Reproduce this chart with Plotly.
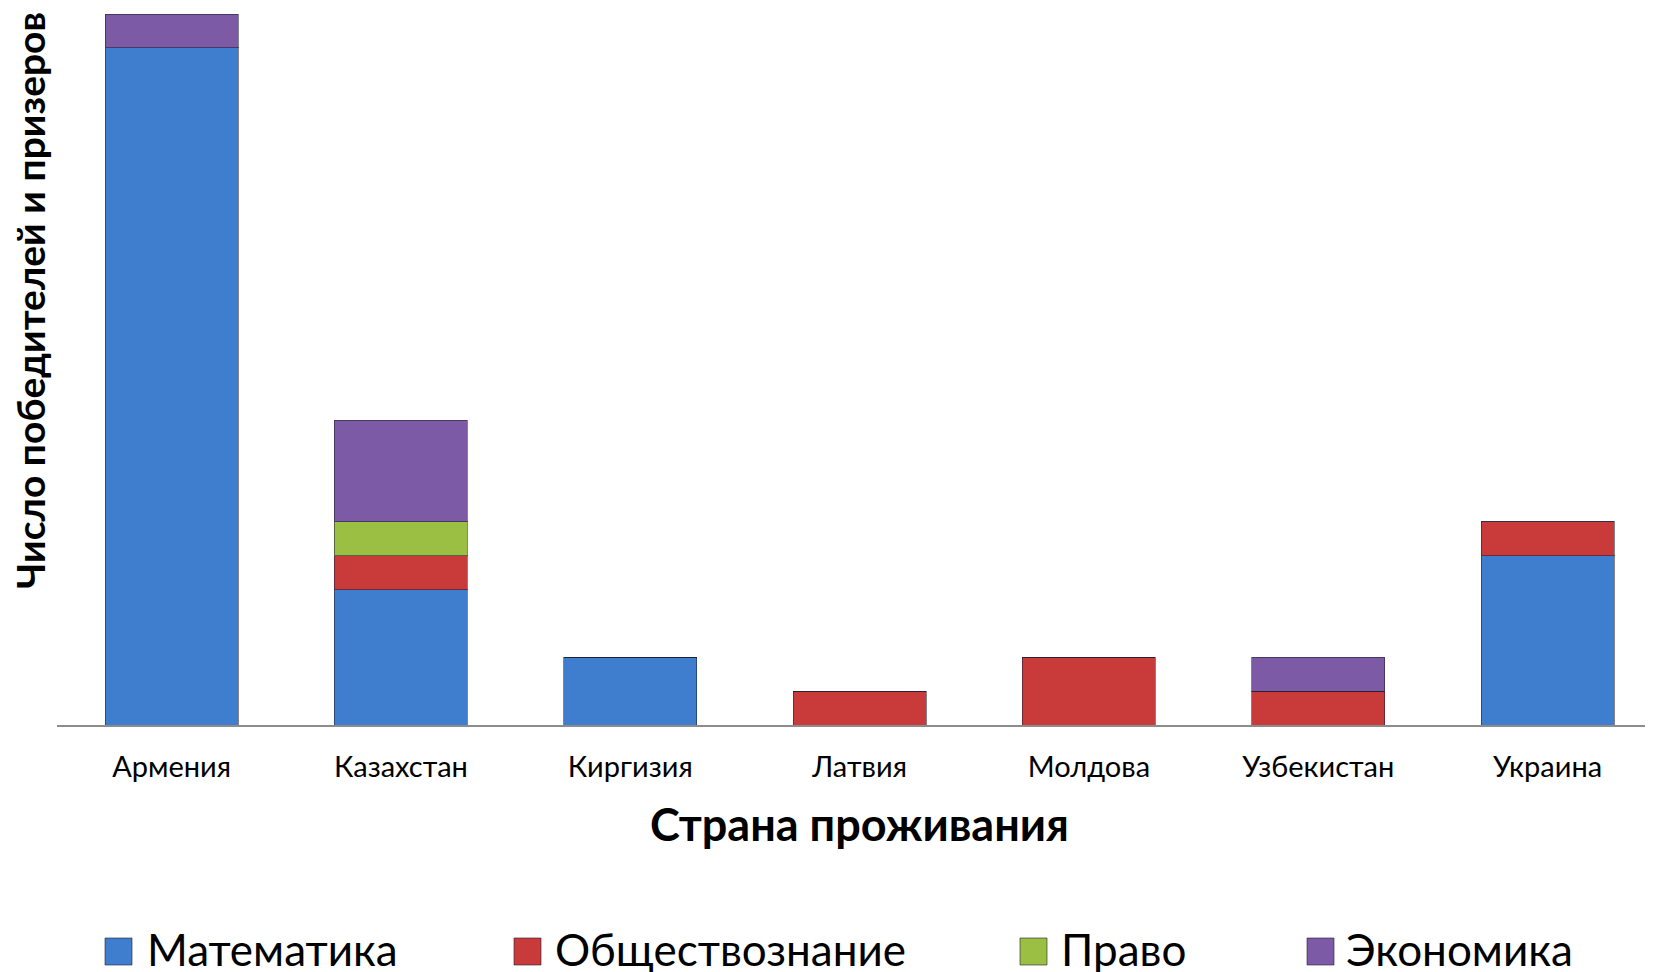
import plotly.graph_objects as go

countries = ["Армения", "Казахстан", "Киргизия", "Латвия", "Молдова", "Узбекистан", "Украина"]
subjects = ["Математика", "Обществознание", "Право", "Экономика"]
math = [20, 4, 2, 0, 0, 0, 5]
social = [0, 1, 0, 1, 2, 1, 1]
law = [0, 1, 0, 0, 0, 0, 0]
econ = [1, 3, 0, 0, 0, 1, 0]
colors = ["#3F7ECF", "#C93A3A", "#9BBF42", "#7D5AA6"]

# page has an 8px body margin, so work in page pixels and shift
OFF = 8
W, H = 1653, 972
L, R, T = 57 - OFF, OFF, 0
BASE = 725 - OFF  # x-axis line in figure pixels
B = H - BASE
FONT = "Lato, 'Open Sans', sans-serif"


def px(x):
    return (x - OFF - L) / (W - L - R)


def py(y):
    return (BASE - (y - OFF)) / (BASE - T)


fig = go.Figure()
for name, vals, col in zip(subjects, [math, social, law, econ], colors):
    fig.add_trace(
        go.Bar(
            x=countries,
            y=vals,
            name=name,
            width=0.58,
            marker=dict(color=col, line=dict(color="rgba(30,30,50,0.55)", width=1)),
            showlegend=False,
        )
    )

# legend drawn by hand so the swatches can be as large as in the original
legend_pos = [(105, 145), (514, 553), (1020, 1059), (1307, 1344)]
for name, col, (sx, tx) in zip(subjects, colors, legend_pos):
    fig.add_shape(
        type="rect", xref="paper", yref="paper",
        x0=px(sx), x1=px(sx + 27), y0=py(938), y1=py(965),
        fillcolor=col, line=dict(color="rgba(30,30,50,0.6)", width=1),
    )
    fig.add_annotation(
        x=px(tx), y=py(949), xref="paper", yref="paper", text=name,
        showarrow=False, xanchor="left", yanchor="middle",
        font=dict(family=FONT, size=44, color="black"),
    )

fig.add_annotation(
    x=px(859), y=py(824), xref="paper", yref="paper", text="<b>Страна проживания</b>",
    showarrow=False, xanchor="center", yanchor="middle",
    font=dict(family=FONT, size=45, color="black"),
)
fig.add_annotation(
    x=px(30), y=py(301), xref="paper", yref="paper", text="<b>Число победителей и призеров</b>",
    showarrow=False, xanchor="center", yanchor="middle", textangle=-90,
    font=dict(family=FONT, size=39, color="black"),
)

fig.update_layout(
    barmode="stack",
    width=W,
    height=H,
    autosize=False,
    margin=dict(l=L, r=R, t=T, b=B, pad=0),
    plot_bgcolor="white",
    paper_bgcolor="white",
    font=dict(family=FONT, color="black"),
)
fig.update_xaxes(
    range=[-0.5, 6.46],
    showline=True,
    linecolor="#8C8C8C",
    linewidth=2,
    showgrid=False,
    ticks="",
    ticklabelstandoff=15,
    tickfont=dict(family=FONT, size=29, color="black"),
)
fig.update_yaxes(
    range=[0, 21.18],
    showgrid=False,
    zeroline=False,
    showticklabels=False,
    showline=False,
)

fig.write_html("out.html")
